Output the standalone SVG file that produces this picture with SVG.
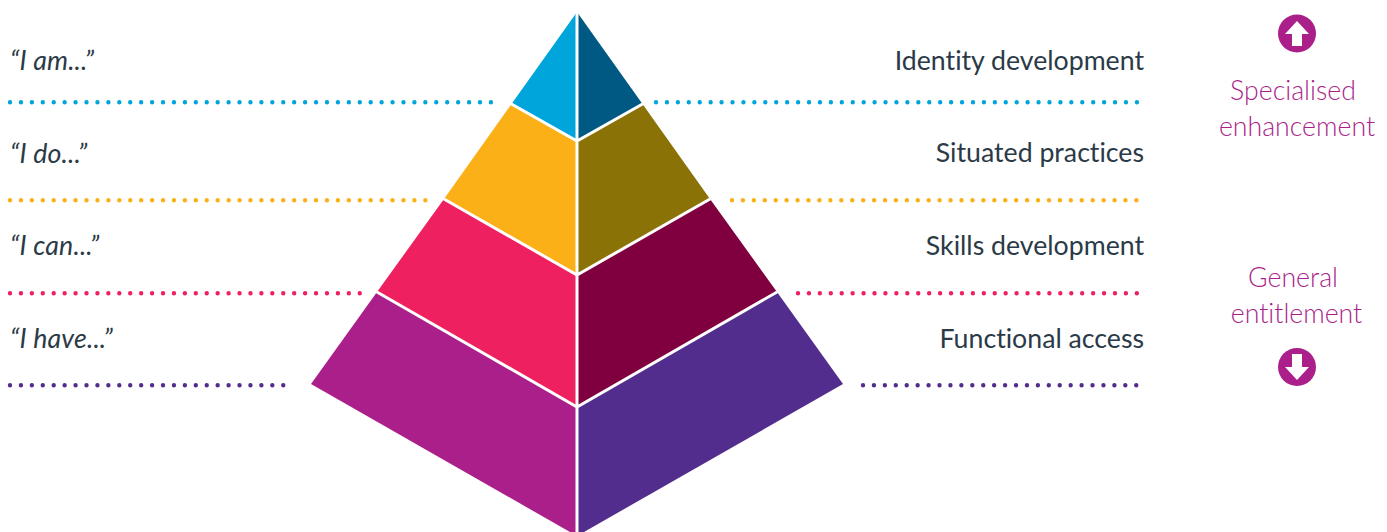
<svg xmlns="http://www.w3.org/2000/svg" width="1387" height="532" viewBox="0 0 1387 532">
<style>
.d{fill:none;stroke-width:4.400;stroke-linecap:round;stroke-dasharray:0 10.93}
.t{font-family:Lato,"Open Sans",sans-serif;font-size:26.700px;fill:#2b3a47;font-variant-ligatures:none}
.i{font-style:italic;font-weight:400;letter-spacing:.2px}
.r{text-anchor:end}
.m{font-family:Lato,"Open Sans",sans-serif;font-size:26.700px;font-weight:300;fill:#aa1f8a;text-anchor:middle;font-variant-ligatures:none}
.s{stroke:#fff;stroke-width:3;fill:none}
</style>
<rect width="1387" height="532" fill="#fff"/>
<g id="connectors">
<path class="d" stroke="#00a5dc" d="M10 102.300H492M656 102.300H1137"/>
<path class="d" stroke="#fbb017" d="M10 200.300H427M732 200.300H1137"/>
<path class="d" stroke="#ee205f" d="M10 293.300H360M798 293.300H1137"/>
<path class="d" stroke="#532d8e" d="M10 385.300H285M863 385.300H1137"/>
</g>
<g id="pyramid">
<path id="l4" fill="#aa1f8a" d="M577 407L377 292L311 384L577 536Z"/>
<path id="r4" fill="#532d8e" d="M577 407L777 292L843 384L577 536Z"/>
<path id="l3" fill="#ee205f" d="M577 275L444 199L377 292L577 407Z"/>
<path id="r3" fill="#80003f" d="M577 275L710 199L777 292L577 407Z"/>
<path id="l2" fill="#fbb017" d="M577 141L511.500 104L444 199L577 275Z"/>
<path id="r2" fill="#8a7207" d="M577 141L642.500 104L710 199L577 275Z"/>
<path id="l1" fill="#00a5dc" d="M577 12L511.500 104L577 141Z"/>
<path id="r1" fill="#005982" d="M577 12L642.500 104L577 141Z"/>
<path class="s" d="M577 8V536M511 103.700L577 141L643 103.700M443.500 198.700L577 275L710.500 198.700M376.500 291.700L577 407L777.500 291.700"/>
</g>
<g id="left-labels">
<text class="t i" x="10" y="70">“I am...”</text>
<text class="t i" x="10" y="163">“I do...”</text>
<text class="t i" x="10" y="255">“I can...”</text>
<text class="t i" x="10" y="348">“I have...”</text>
</g>
<g id="right-labels">
<text class="t r" x="1144" y="70">Identity development</text>
<text class="t r" x="1144" y="162">Situated practices</text>
<text class="t r" x="1144" y="255">Skills development</text>
<text class="t r" x="1144" y="348">Functional access</text>
</g>
<g id="enhancement">
<circle cx="1297" cy="33.500" r="19" fill="#aa1f8a"/>
<path fill="#fff" d="M1297 21L1309 34H1302V46H1292V34H1285Z"/>
<text class="m" x="1293" y="100">Specialised</text>
<text class="m" x="1297" y="136">enhancement</text>
</g>
<g id="entitlement">
<text class="m" x="1293" y="287">General</text>
<text class="m" x="1296.500" y="323">entitlement</text>
<circle cx="1297" cy="367" r="19" fill="#aa1f8a"/>
<path fill="#fff" d="M1297 380L1309 367H1302V354H1292V367H1285Z"/>
</g>
</svg>
